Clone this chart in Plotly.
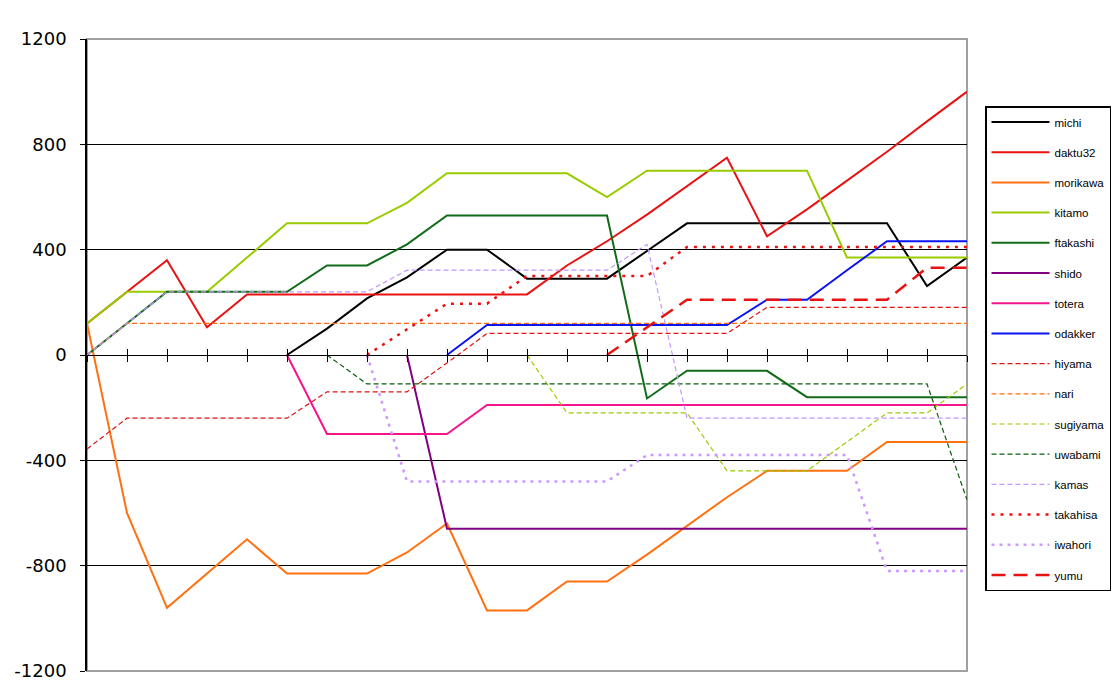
import plotly.graph_objects as go

N = None
games = list(range(23))

michi    = [N, N, N, N, N, 0, 100, 215, 295, 400, 400, 290, 290, 290, 395, 500, 500, 500, 500, 500, 500, 262, 370]
daktu32  = [120, 240, 360, 105, 230, 230, 230, 230, 230, 230, 230, 230, 340, 432, 533, 641, 749, 451, 553, 662, 772, 887, 1000]
morikawa = [120, -600, -960, -830, -700, -830, -830, -830, -750, -640, -970, -970, -860, -860, -758, -648, -540, -440, -440, -440, -330, -330, -330]
kitamo   = [120, 240, 240, 240, 370, 500, 500, 500, 578, 690, 690, 690, 690, 600, 700, 700, 700, 700, 700, 370, 370, 370, 370]
ftakashi = [0, 120, 240, 240, 240, 240, 340, 340, 420, 530, 530, 530, 530, 530, -165, -60, -60, -60, -160, -160, -160, -160, -160]
shido    = [N, N, N, N, N, N, N, N, 0, -660, -660, -660, -660, -660, -660, -660, -660, -660, -660, -660, -660, -660, -660]
totera   = [N, N, N, N, N, 0, -300, -300, -300, -300, -190, -190, -190, -190, -190, -190, -190, -190, -190, -190, -190, -190, -190]
odakker  = [N, N, N, N, N, N, N, N, N, 0, 114, 114, 114, 114, 114, 114, 114, 210, 210, 322, 432, 432, 432]
hiyama   = [-357, -240, -240, -240, -240, -240, -140, -140, -140, -30, 82, 82, 82, 82, 82, 82, 82, 181, 181, 181, 181, 181, 181]
nari     = [0, 120, 120, 120, 120, 120, 120, 120, 120, 120, 120, 120, 120, 120, 120, 120, 120, 120, 120, 120, 120, 120, 120]
sugiyama = [N, N, N, N, N, N, N, N, N, N, N, 0, -220, -220, -220, -220, -440, -440, -440, -330, -220, -220, -110]
uwabami  = [N, N, N, N, N, N, 0, -110, -110, -110, -110, -110, -110, -110, -110, -110, -110, -110, -110, -110, -110, -110, -550]
kamas    = [0, 120, 240, 240, 240, 240, 240, 240, 322, 322, 322, 322, 322, 322, 420, -240, -240, -240, -240, -240, -240, -240, -240]
takahisa = [N, N, N, N, N, N, N, 0, 97, 195, 195, 300, 300, 300, 300, 410, 410, 410, 410, 410, 410, 410, 410]
iwahori  = [N, N, N, N, N, N, N, 0, -480, -480, -480, -480, -480, -480, -380, -380, -380, -380, -380, -380, -820, -820, -820]
yumu     = [N, N, N, N, N, N, N, N, N, N, N, N, N, 0, 106, 210, 210, 210, 210, 210, 210, 331, 331]

y_ticks = [-1200, -800, -400, 0, 400, 800, 1200]

series = [
    ("michi", michi, "#000000", 2, "solid"),
    ("daktu32", daktu32, "#e81212", 2, "solid"),
    ("morikawa", morikawa, "#ff7010", 2, "solid"),
    ("kitamo", kitamo, "#99cc00", 2, "solid"),
    ("ftakashi", ftakashi, "#116b18", 2, "solid"),
    ("shido", shido, "#800080", 2, "solid"),
    ("totera", totera, "#f5168c", 2, "solid"),
    ("odakker", odakker, "#0a14f0", 2, "solid"),
    ("hiyama", hiyama, "#e01010", 1.2, "5px,3px"),
    ("nari", nari, "#ff6a10", 1.2, "5px,3px"),
    ("sugiyama", sugiyama, "#99cc00", 1.2, "5px,3px"),
    ("uwabami", uwabami, "#0a5e0a", 1.2, "5px,3px"),
    ("kamas", kamas, "#c496ff", 1.2, "5px,3px"),
    ("takahisa", takahisa, "#ee1010", 2.5, "3px,6px"),
    ("iwahori", iwahori, "#cc99ff", 2.5, "3px,5px"),
    ("yumu", yumu, "#e81212", 2.5, "14px,8px"),
]

fig = go.Figure()
for name, vals, color, width, dash in series:
    fig.add_trace(go.Scatter(
        x=games, y=vals, name=name, mode="lines",
        line=dict(color=color, width=width, dash=dash),
        connectgaps=False, legendgroup=name,
    ))

# invisible trace to drive the upward half of the crossing ticks
fig.add_trace(go.Scatter(x=[games[0], games[-1]], y=[0, 0], xaxis="x2",
                         mode="lines", line=dict(width=0), showlegend=False,
                         hoverinfo="skip"))

font = "Liberation Sans"
fig.update_layout(
    width=1120, height=700,
    margin=dict(l=79, r=161, t=31, b=37),
    paper_bgcolor="white", plot_bgcolor="white",
    font=dict(family=font, color="black"),
    showlegend=True,
    legend=dict(
        x=(985 - 87) / 880, xanchor="left",
        y=(671 - 106) / 632, yanchor="top",
        bgcolor="white", bordercolor="black", borderwidth=1.5,
        font=dict(size=11.5, family=font, color="black"),
        tracegroupgap=11.2, itemwidth=58, entrywidth=124,
    ),
    xaxis=dict(
        range=[games[0], games[-1]], tickvals=games, showticklabels=False,
        showgrid=False, zeroline=False, anchor="free", position=0.5,
        showline=True, linecolor="black", linewidth=1.2,
        ticks="outside", ticklen=6, tickwidth=1.2, tickcolor="black",
        automargin=False,
    ),
    xaxis2=dict(
        range=[games[0], games[-1]], tickvals=games, showticklabels=False,
        showgrid=False, zeroline=False, overlaying="x", anchor="free", position=0.5,
        side="bottom", showline=False,
        ticks="inside", ticklen=6, tickwidth=1.2, tickcolor="black",
        automargin=False,
    ),
    yaxis=dict(
        range=[-1200, 1200], tickvals=y_ticks,
        ticktext=[str(v) for v in y_ticks],
        showgrid=True, gridcolor="black", gridwidth=1,
        zeroline=False,
        showline=True, linecolor="black", linewidth=1.5,
        ticks="outside", ticklen=5, tickcolor="black",
        tickfont=dict(size=18, family="DejaVu Sans", color="black"),
        ticklabelstandoff=10, automargin=False,
    ),
    shapes=[
        dict(type="rect", xref="paper", yref="paper", x0=0, x1=1, y0=0, y1=1,
             line=dict(color="#a0a0a0", width=2), layer="below"),
    ],
)

fig.write_html("out.html")
